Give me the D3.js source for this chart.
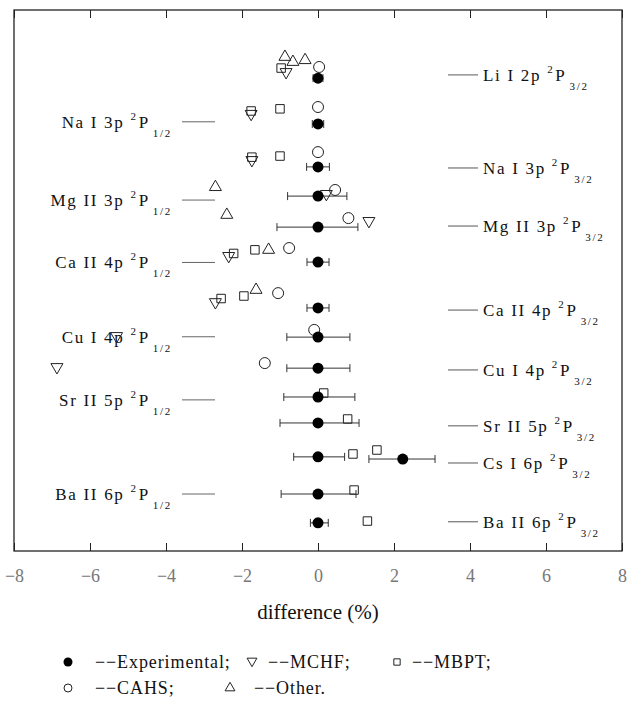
<!DOCTYPE html>
<html>
<head>
<meta charset="utf-8">
<script src="https://cdn.jsdelivr.net/npm/d3@7"></script>
<style>
  body { margin: 0; background: #fff; }
  text { font-family: "Liberation Serif", serif; fill: #111; }
  .axis line { stroke: #222; }
</style>
</head>
<body>
<svg width="629" height="712"></svg>
<script>
// tick values on the x axis (difference in %)
var xTicks = [-8, -6, -4, -2, 0, 2, 4, 6, 8];

// measured values with error bars; "level" is the vertical row position
var experimental = [
    { x: 0, lo: -0.13, hi: 0.13, level: 1.89 },
    { x: 0, lo: -0.15, hi: 0.15, level: 3.16 },
    { x: 0, lo: -0.30, hi: 0.30, level: 4.35 },
    { x: 0, lo: -0.80, hi: 0.76, level: 5.16 },
    { x: 0, lo: -1.08, hi: 1.05, level: 6.02 },
    { x: 0, lo: -0.29, hi: 0.29, level: 6.99 },
    { x: 0, lo: -0.29, hi: 0.29, level: 8.26 },
    { x: 0, lo: -0.82, hi: 0.84, level: 9.07 },
    { x: 0, lo: -0.82, hi: 0.84, level: 9.93 },
    { x: 0, lo: -0.90, hi: 0.97, level: 10.73 },
    { x: 0, lo: -1.00, hi: 1.08, level: 11.45 },
    { x: 0, lo: -0.64, hi: 0.70, level: 12.39 },
    { x: 2.23, lo: 1.34, hi: 3.08, level: 12.45 },
    { x: 0, lo: -0.97, hi: 1.00, level: 13.42 },
    { x: 0, lo: -0.20, hi: 0.27, level: 14.22 }
];

var mchf = [
    { x: -0.84, level: 1.72 },
    { x: -1.76, level: 2.88 },
    { x: -1.74, level: 4.16 },
    { x: 0.22, level: 5.10 },
    { x: 1.34, level: 5.85 },
    { x: -2.35, level: 6.82 },
    { x: -2.70, level: 8.10 },
    { x: -5.30, level: 9.04 },
    { x: -6.87, level: 9.90 }
];

var mbpt = [
    { x: -0.97, level: 1.61 },
    { x: -1.00, level: 2.74 },
    { x: -1.76, level: 2.80 },
    { x: -1.00, level: 4.05 },
    { x: -1.74, level: 4.08 },
    { x: -1.66, level: 6.65 },
    { x: -2.22, level: 6.75 },
    { x: -1.95, level: 7.93 },
    { x: -2.55, level: 8.00 },
    { x: 0.15, level: 10.62 },
    { x: 0.78, level: 11.34 },
    { x: 0.92, level: 12.31 },
    { x: 1.55, level: 12.20 },
    { x: 0.95, level: 13.31 },
    { x: 1.30, level: 14.17 }
];

var cahs = [
    { x: 0.03, level: 1.58 },
    { x: 0.00, level: 2.69 },
    { x: 0.00, level: 3.94 },
    { x: 0.45, level: 4.99 },
    { x: 0.80, level: 5.77 },
    { x: -0.76, level: 6.60 },
    { x: -1.05, level: 7.85 },
    { x: -0.10, level: 8.87 },
    { x: -1.40, level: 9.79 }
];

var other = [
    { x: -0.87, level: 1.30 },
    { x: -0.66, level: 1.44 },
    { x: -0.34, level: 1.39 },
    { x: -2.70, level: 4.91 },
    { x: -2.40, level: 5.68 },
    { x: -1.30, level: 6.65 },
    { x: -1.63, level: 7.76 }
];

// transition labels: left side are the 2P1/2 lines, right side the 2P3/2 lines
var leftLabels = [
    { name: "Na I 3p", j: "1/2", level: 3.10 },
    { name: "Mg II 3p", j: "1/2", level: 5.27 },
    { name: "Ca II 4p", j: "1/2", level: 7.00 },
    { name: "Cu I 4p", j: "1/2", level: 9.06 },
    { name: "Sr II 5p", j: "1/2", level: 10.81 },
    { name: "Ba II 6p", j: "1/2", level: 13.42 }
];
var rightLabels = [
    { name: "Li I 2p", j: "3/2", level: 1.80 },
    { name: "Na I 3p", j: "3/2", level: 4.38 },
    { name: "Mg II 3p", j: "3/2", level: 5.99 },
    { name: "Ca II 4p", j: "3/2", level: 8.32 },
    { name: "Cu I 4p", j: "3/2", level: 9.98 },
    { name: "Sr II 5p", j: "3/2", level: 11.53 },
    { name: "Cs I 6p", j: "3/2", level: 12.56 },
    { name: "Ba II 6p", j: "3/2", level: 14.19 }
];

var serif = "'Liberation Serif', 'DejaVu Serif', serif";

var svg = d3.select("svg"),
    plot = { left: 14, right: 622, top: 10, bottom: 551 };

var x = d3.scaleLinear().domain([-8, 8]).range([plot.left, plot.right]),
    y = d3.scaleLinear().domain([0, 15]).range([plot.top, plot.bottom]);

// frame
svg.append("rect")
    .attr("x", plot.left)
    .attr("y", plot.top)
    .attr("width", plot.right - plot.left)
    .attr("height", plot.bottom - plot.top)
    .attr("fill", "none")
    .attr("stroke", "#222")
    .attr("stroke-width", 1.3);

// axes: ticks point inwards
var xBottom = svg.append("g")
    .attr("class", "axis")
    .attr("transform", "translate(0," + plot.bottom + ")")
    .call(d3.axisBottom(x).tickValues(xTicks).tickSizeInner(-8).tickSizeOuter(0).tickPadding(18));
xBottom.select(".domain").remove();
xBottom.selectAll("text")
    .attr("font-family", "'Liberation Sans', sans-serif")
    .attr("font-size", 18)
    .style("fill", "#777");

var xTop = svg.append("g")
    .attr("class", "axis")
    .attr("transform", "translate(0," + plot.top + ")")
    .call(d3.axisTop(x).tickValues(xTicks).tickSizeInner(-8).tickSizeOuter(0).tickFormat(""));
xTop.select(".domain").remove();

svg.append("text")
    .attr("x", x(0))
    .attr("y", 619)
    .attr("text-anchor", "middle")
    .attr("font-family", serif)
    .attr("font-size", 21)
    .text("difference (%)");

// labels for the transitions
function addLabel(g, d) {
    var t = g.append("text")
        .attr("y", y(d.level))
        .attr("dy", "0.35em")
        .attr("font-family", serif)
        .attr("font-size", 17)
        .style("letter-spacing", "1.7px");
    t.append("tspan").text(d.name + " ");
    t.append("tspan").attr("dy", -8).attr("font-size", 11).text("2");
    t.append("tspan").attr("dy", 8).attr("dx", 1).text("P");
    t.append("tspan").attr("dy", 9).attr("dx", 3).attr("font-size", 11).text(d.j);
    return t;
}

leftLabels.forEach(function (d) {
    addLabel(svg, d).attr("x", 172).attr("text-anchor", "end");
    svg.append("line")
        .attr("x1", 182).attr("x2", 215)
        .attr("y1", y(d.level)).attr("y2", y(d.level))
        .attr("stroke", "#555").attr("stroke-width", 0.9);
});

rightLabels.forEach(function (d) {
    addLabel(svg, d).attr("x", 483);
    svg.append("line")
        .attr("x1", 448).attr("x2", 478)
        .attr("y1", y(d.level)).attr("y2", y(d.level))
        .attr("stroke", "#444").attr("stroke-width", 0.9);
});

// symbols
var triangle = d3.symbol().type(d3.symbolTriangle).size(62),
    square = d3.symbol().type(d3.symbolSquare).size(72),
    circle = d3.symbol().type(d3.symbolCircle).size(95);

function drawSymbols(data, gen, rotate) {
    svg.append("g").selectAll("path")
        .data(data)
        .enter().append("path")
        .attr("d", gen)
        .attr("transform", function (d) {
            return "translate(" + x(d.x) + "," + y(d.level) + ")" + (rotate ? " rotate(180)" : "");
        })
        .attr("fill", "none")
        .attr("stroke", "#222")
        .attr("stroke-width", 1);
}

drawSymbols(other, triangle, false);
drawSymbols(mchf, triangle, true);
drawSymbols(mbpt, square, false);
drawSymbols(cahs, circle, false);

// experimental values with error bars
var exp = svg.append("g").selectAll("g")
    .data(experimental)
    .enter().append("g");

exp.append("line")
    .attr("x1", function (d) { return x(d.lo); })
    .attr("x2", function (d) { return x(d.hi); })
    .attr("y1", function (d) { return y(d.level); })
    .attr("y2", function (d) { return y(d.level); })
    .attr("stroke", "#333");

exp.each(function (d) {
    var g = d3.select(this);
    [d.lo, d.hi].forEach(function (v) {
        g.append("line")
            .attr("x1", x(v)).attr("x2", x(v))
            .attr("y1", y(d.level) - 4).attr("y2", y(d.level) + 4)
            .attr("stroke", "#333");
    });
});

exp.append("circle")
    .attr("cx", function (d) { return x(d.x); })
    .attr("cy", function (d) { return y(d.level); })
    .attr("r", 5.5)
    .attr("fill", "#000");

// legend
var legend = svg.append("g")
    .attr("font-family", serif)
    .attr("font-size", 18);
var smallTri = d3.symbol().type(d3.symbolTriangle).size(42),
    smallSq = d3.symbol().type(d3.symbolSquare).size(40),
    smallCirc = d3.symbol().type(d3.symbolCircle).size(50);

function legendText(tx, ty, s) {
    legend.append("text").attr("x", tx).attr("y", ty)
        .style("letter-spacing", "0.9px").text(s);
}

legend.append("circle").attr("cx", 68).attr("cy", 662).attr("r", 4.5).attr("fill", "#000");
legendText(95, 668, "\u2212\u2212Experimental;");
legend.append("path").attr("d", smallTri).attr("transform", "translate(252,661) rotate(180)")
    .attr("fill", "none").attr("stroke", "#222");
legendText(268, 668, "\u2212\u2212MCHF;");
legend.append("path").attr("d", smallSq).attr("transform", "translate(397,662)")
    .attr("fill", "none").attr("stroke", "#222");
legendText(412, 668, "\u2212\u2212MBPT;");

legend.append("path").attr("d", smallCirc).attr("transform", "translate(68,688)")
    .attr("fill", "none").attr("stroke", "#222");
legendText(95, 694, "\u2212\u2212CAHS;");
legend.append("path").attr("d", smallTri).attr("transform", "translate(230,688)")
    .attr("fill", "none").attr("stroke", "#222");
legendText(254, 694, "\u2212\u2212Other.");
</script>
</body>
</html>
